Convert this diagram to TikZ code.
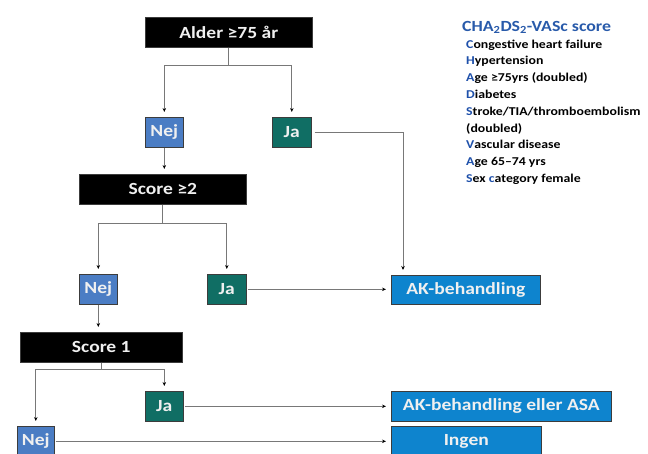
\documentclass[tikz,border=0pt]{standalone}
\usepackage{fontspec}
\setmainfont{Carlito}[FakeStretch=1.15]
\usetikzlibrary{arrows.meta,calc}
\definecolor{nejblue}{RGB}{75,125,196}
\definecolor{jateal}{RGB}{16,110,100}
\definecolor{akblue}{RGB}{14,132,206}
\definecolor{boxborder}{RGB}{60,60,60}
\definecolor{boxtext}{RGB}{240,240,240}
\definecolor{linegray}{RGB}{120,120,120}
\definecolor{legtitle}{RGB}{40,90,170}
\definecolor{legblue}{RGB}{30,80,170}
\newcommand{\lb}[1]{\textcolor{legblue}{#1}}
\tikzset{
  boxbase/.style={draw=boxborder, line width=0.6pt, text=boxtext, inner sep=0pt,
    anchor=north west, font=\bfseries\fontsize{17}{20}\selectfont},
  blackbox/.style={boxbase, fill=black},
  nejbox/.style={boxbase, fill=nejblue},
  jabox/.style={boxbase, fill=jateal},
  akbox/.style={boxbase, fill=akblue},
  conn/.style={draw=linegray, line width=0.8pt},
  arr/.style={conn, -{Stealth[length=4pt,width=3.5pt,color=black]}, shorten >=5pt},
  legitem/.style={anchor=base west, inner sep=0pt, font=\bfseries\fontsize{12}{14}\selectfont},
  legtitlestyle/.style={anchor=base west, inner sep=0pt, text=legtitle, font=\bfseries\fontsize{15.5}{18}\selectfont}
}
\begin{document}
\begin{tikzpicture}[x=1pt,y=-1pt]
\useasboundingbox (0,0) rectangle (648,453);
\clip (0,0) rectangle (648,453);
% boxes
\node[blackbox, minimum width=167pt, minimum height=30pt] (alder) at (145,17) {Alder ≥75 år};
\node[nejbox, minimum width=38pt, minimum height=30pt] (nej1) at (145,117) {Nej};
\node[jabox, minimum width=39pt, minimum height=30pt] (ja1) at (272,117) {Ja};
\node[blackbox, minimum width=167pt, minimum height=30pt] (score2) at (79,174) {Score ≥2};
\node[nejbox, minimum width=38pt, minimum height=30pt] (nej2) at (79,274) {Nej};
\node[jabox, minimum width=39pt, minimum height=30pt] (ja2) at (207,274) {Ja};
\node[akbox, minimum width=149pt, minimum height=29pt] (ak) at (391,275) {AK-behandling};
\node[blackbox, minimum width=162pt, minimum height=30pt] (score1) at (20,332) {Score 1};
\node[jabox, minimum width=38pt, minimum height=30pt] (ja3) at (145,391) {Ja};
\node[nejbox, minimum width=37pt, minimum height=30pt] (nej3) at (17,426) {Nej};
\node[akbox, minimum width=220pt, minimum height=30pt] (akasa) at (391,391) {AK-behandling eller ASA};
\node[akbox, minimum width=150pt, minimum height=30pt] (ingen) at (391,426) {Ingen};
% connectors
\draw[arr] (alder.south) -- ++(0,18) -| (nej1.north);
\draw[arr] (alder.south) -- ++(0,18) -| (ja1.north);
\draw[arr] (nej1.south) -- (nej1.south |- score2.north);
\draw[arr] (score2.south) -- ++(0,19) -| (nej2.north);
\draw[arr] (score2.south) -- ++(0,19) -| (ja2.north);
\draw[arr, shorten <=3pt] (ja1.east) -| ($(ak.north west)+(12,0)$);
\draw[arr, shorten <=1pt] (ja2.east) -- (ja2.east -| ak.west);
\draw[arr] (nej2.south) -- (nej2.south |- score1.north);
\draw[arr] (score1.south) -- ++(0,7) -| (nej3.north);
\draw[arr] (score1.south) -- ++(0,7) -| (ja3.north);
\draw[arr, shorten <=1pt] (ja3.east) -- (ja3.east -| akasa.west);
\draw[arr, shorten <=1pt] (nej3.east) -- (nej3.east -| ingen.west);
% legend
\node[legtitlestyle] (legt) at (462,31) {CHA\textsubscript{2}DS\textsubscript{2}-VASc score};
\node[legitem] (l1) at (466,48) {\lb{C}ongestive heart failure};
\node[legitem] (l2) at (466,64.8) {\lb{H}ypertension};
\node[legitem] (l3) at (466,81.6) {\lb{A}ge ≥75yrs (doubled)};
\node[legitem] (l4) at (466,98.4) {\lb{D}iabetes};
\node[legitem] (l5) at (466,115.2) {\lb{S}troke/TIA/thromboembolism};
\node[legitem] (l6) at (466,132) {(doubled)};
\node[legitem] (l7) at (466,148.8) {\lb{V}ascular disease};
\node[legitem] (l8) at (466,165.6) {\lb{A}ge 65–74 yrs};
\node[legitem] (l9) at (466,182.4) {\lb{S}ex \lb{c}ategory female};
\end{tikzpicture}
\end{document}
